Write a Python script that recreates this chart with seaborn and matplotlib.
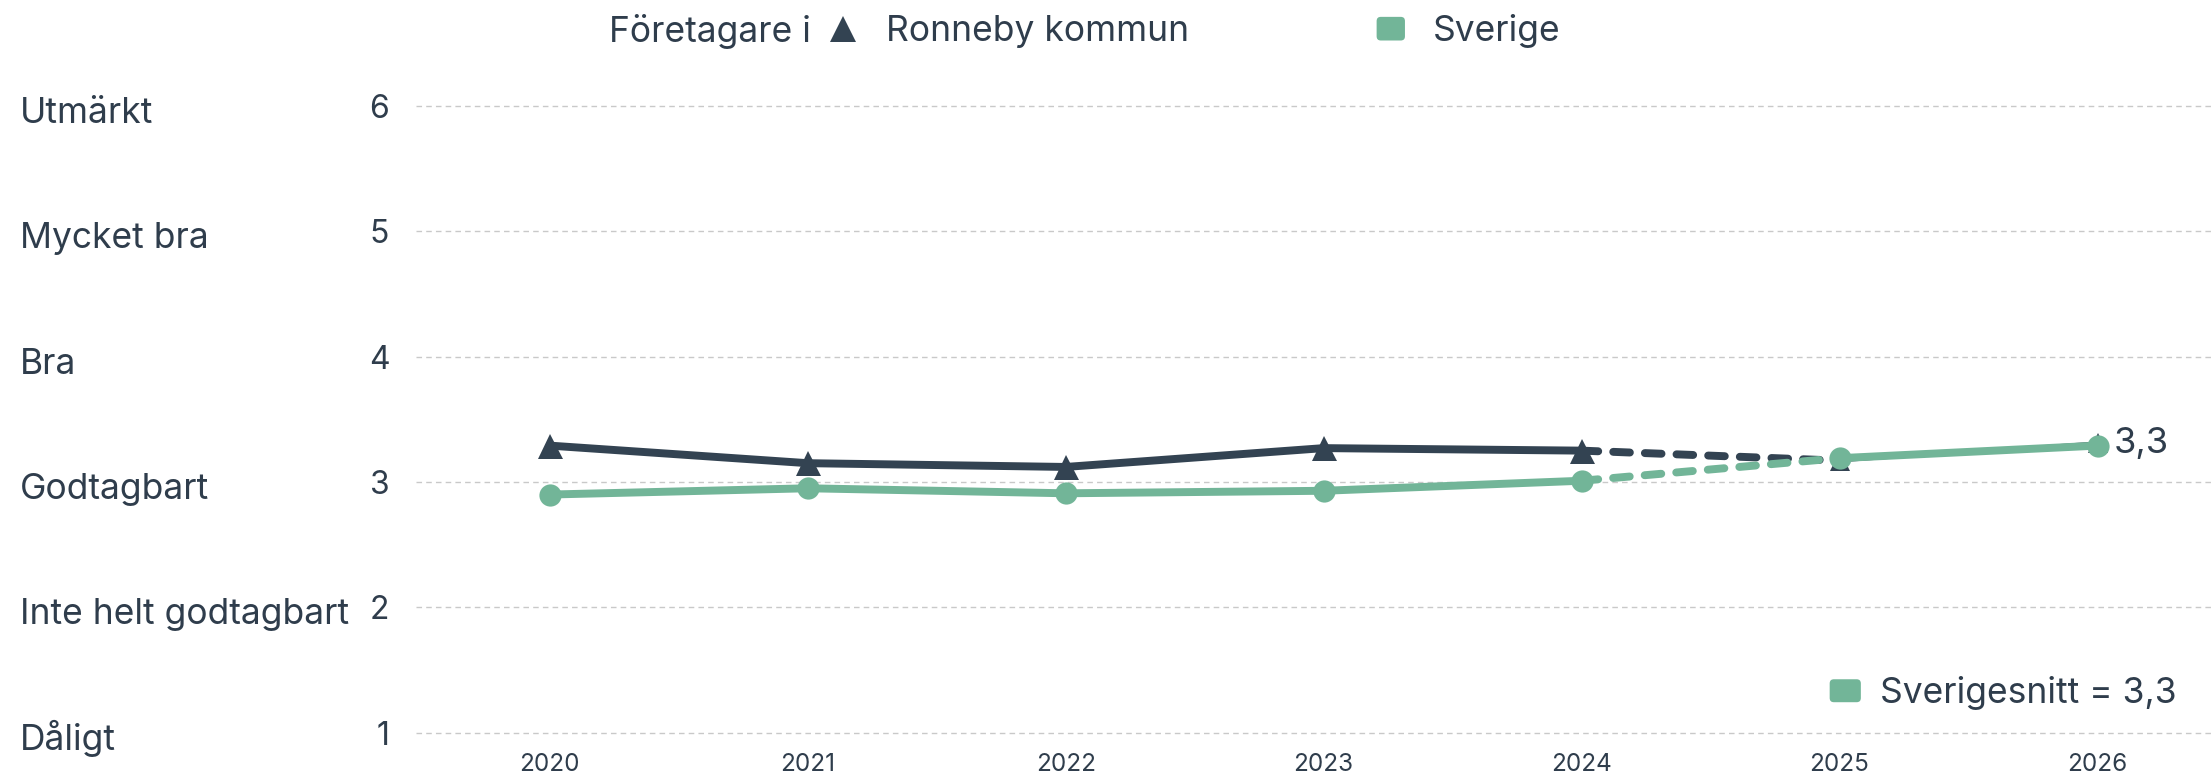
import matplotlib
matplotlib.use("Agg")
import matplotlib.pyplot as plt
import matplotlib.patches as mpatches
import matplotlib.transforms as mtransforms
from matplotlib.lines import Line2D
from matplotlib.legend_handler import HandlerPatch
import seaborn as sns
import pandas as pd

# data
years = [2020, 2021, 2022, 2023, 2024, 2025, 2026]
ronneby = [3.29, 3.15, 3.12, 3.27, 3.25, 3.17, 3.31]
sverige = [2.90, 2.95, 2.91, 2.93, 3.01, 3.19, 3.29]
levels = [1, 2, 3, 4, 5, 6]
level_names = ["Dåligt", "Inte helt godtagbart", "Godtagbart", "Bra", "Mycket bra", "Utmärkt"]
snitt_label = "Sverigesnitt = 3,3"

DARK = "#334352"
GREEN = "#72b598"
TEXT = "#2f3d4c"

sns.set_style("white")
plt.rcParams["font.family"] = ["Inter", "DejaVu Sans"]
plt.rcParams["text.color"] = TEXT

df = pd.DataFrame({"year": years, "ronneby": ronneby, "sverige": sverige})
hist = df.iloc[:5]     # 2020-2024 solid
proj = df.iloc[4:6]    # 2024-2025 dashed
fut = df.iloc[5:]      # 2025-2026

fig = plt.figure(figsize=(22.11, 7.78), dpi=100)
ax = fig.add_axes([0.188, 0.0337, 0.812, 0.879])

LW = 5.7
dash = (0, (2.1, 1.9))

# Ronneby
sns.lineplot(data=hist, x="year", y="ronneby", ax=ax, color=DARK, lw=LW, marker="^",
             markersize=18, markeredgewidth=0, zorder=4)
sns.lineplot(data=proj, x="year", y="ronneby", ax=ax, color=DARK, lw=LW, linestyle=dash,
             dash_capstyle="round", zorder=4)
sns.lineplot(data=fut, x="year", y="ronneby", ax=ax, color=DARK, lw=2.4, marker="^",
             markersize=14, markeredgewidth=0, zorder=3)

# Sverige
sns.lineplot(data=hist, x="year", y="sverige", ax=ax, color=GREEN, lw=LW, marker="o",
             markersize=16, markeredgewidth=0, zorder=4)
sns.lineplot(data=proj, x="year", y="sverige", ax=ax, color=GREEN, lw=LW, linestyle=dash,
             dash_capstyle="round", zorder=4)
sns.lineplot(data=fut, x="year", y="sverige", ax=ax, color=GREEN, lw=LW, marker="o",
             markersize=16, markeredgewidth=0, zorder=5)

ax.annotate(f"{ronneby[-1]:.1f}".replace(".", ","), xy=(years[-1], ronneby[-1]),
            xytext=(12, 0), textcoords="offset points", va="center", ha="left",
            fontsize=26, color=TEXT)

ax.set_xlim(2019.48, 2026.44)
ax.set_ylim(0.85, 6.3)
ax.set_xticks(years)
ax.set_xticklabels([str(y) for y in years], fontsize=17.5, color=TEXT)
ax.set_yticks(levels)
ax.set_yticklabels([str(l) for l in levels], fontsize=23, color=TEXT)
ax.tick_params(axis="both", length=0)
ax.tick_params(axis="y", pad=19)
ax.tick_params(axis="x", pad=1)
ax.set_xlabel("")
ax.set_ylabel("")
ax.grid(axis="y", linestyle=(0, (4, 3)), color="#c9c9c9", lw=1)
ax.grid(axis="x", visible=False)
for s in ax.spines.values():
    s.set_visible(False)

trans = mtransforms.blended_transform_factory(fig.transFigure, ax.transData)
trans = mtransforms.offset_copy(trans, fig=fig, y=-17, units="dots")
for lvl, name in zip(levels, level_names):
    ax.text(0.009, lvl, name, transform=trans, ha="left", va="baseline", fontsize=25.5, color=TEXT)


def rounded(legend, orig_handle, xdescent, ydescent, width, height, fontsize):
    return mpatches.FancyBboxPatch((-xdescent, -ydescent), width, height,
                                   boxstyle="round,pad=0,rounding_size=3")


hmap = {mpatches.Patch: HandlerPatch(patch_func=rounded)}

# top legend
fig.text(0.2755, 0.960, "Företagare i", ha="left", va="center", fontsize=25.5, color=TEXT)
h1 = Line2D([], [], marker="^", color=DARK, ls="none", markersize=19, markeredgewidth=0)
h2 = mpatches.Patch(facecolor=GREEN, edgecolor="none")
leg1 = fig.legend([h1, h2], ["Ronneby kommun", "Sverige"], loc="center left",
                  bbox_to_anchor=(0.375, 0.960), ncol=2, frameon=False, fontsize=25.5,
                  handlelength=0.8, handleheight=0.65, handletextpad=0.8,
                  columnspacing=5.3, borderpad=0, borderaxespad=0, handler_map=hmap)

# bottom right legend
h3 = mpatches.Patch(facecolor=GREEN, edgecolor="none")
leg2 = ax.legend([h3], [snitt_label], loc="center right",
                 bbox_to_anchor=(0.9846, 0.109), bbox_transform=fig.transFigure,
                 frameon=False, fontsize=25.5, handlelength=0.88, handleheight=0.62,
                 handletextpad=0.55, borderpad=0, borderaxespad=0, handler_map=hmap)

fig.savefig("out.png", dpi=100)
